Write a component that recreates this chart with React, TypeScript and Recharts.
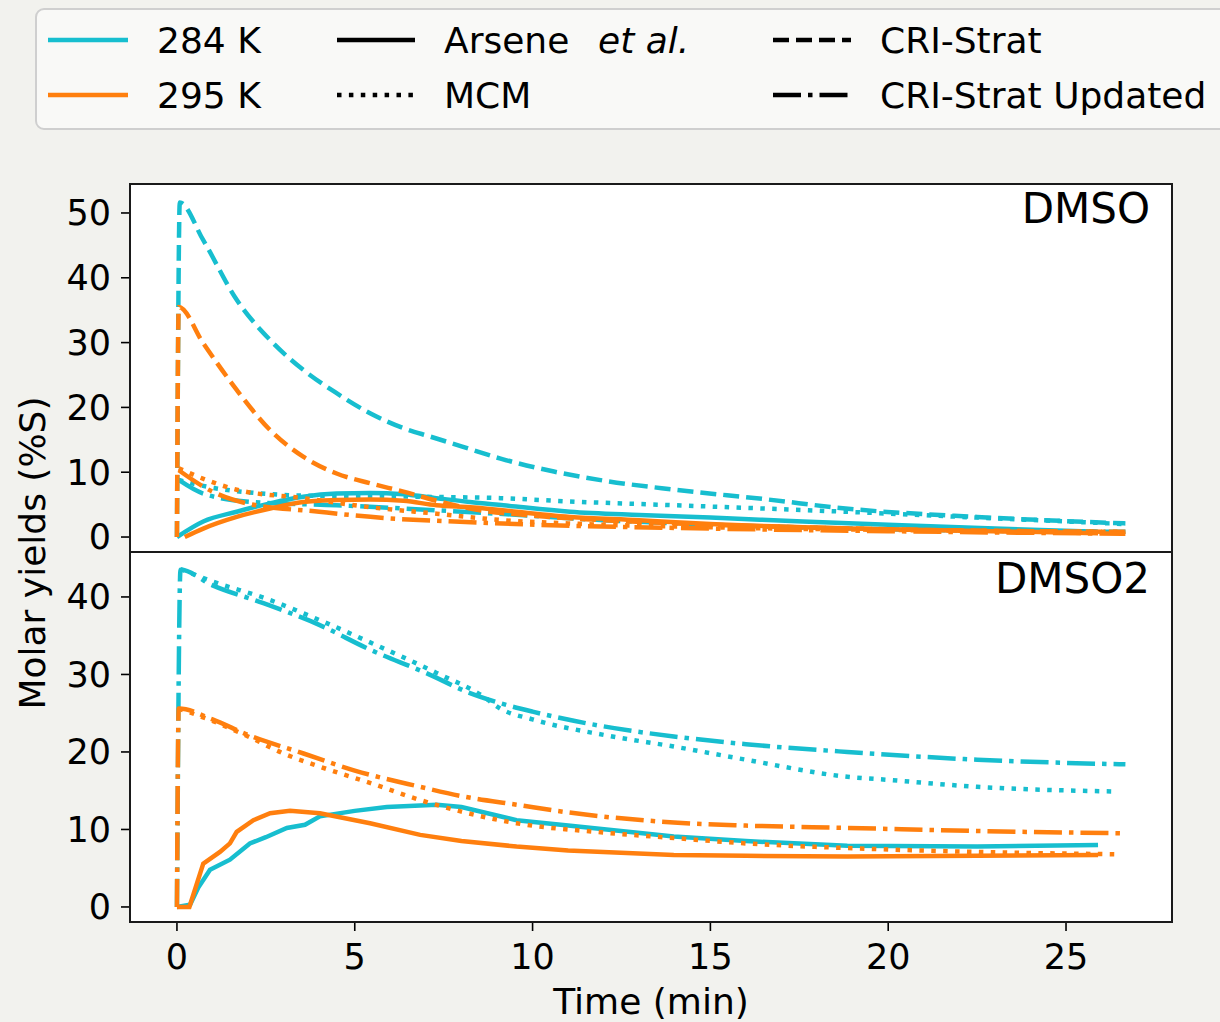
import { LineChart, Line, XAxis, YAxis } from "recharts";

const FONT = '"DejaVu Sans", "Liberation Sans", sans-serif';
const CYAN = "#17becf";
const ORANGE = "#ff7f0e";
const LINE_W = 4.5;

// dash patterns scaled to the line width, matplotlib style
const DASH: Record<string, string | undefined> = {
  solid: undefined,
  dashed: "16 7",
  dotted: "4.5 7.4",
  dashdot: "28 7 4.5 7",
};

const timeTicks = [0, 5, 10, 15, 20, 25];
const timeDomain = [-1.32, 27.98];
const dmsoTicks = [0, 10, 20, 30, 40, 50];
const dmsoDomain = [-2.31, 54.47];
const dmso2Ticks = [0, 10, 20, 30, 40];
const dmso2Domain = [-1.94, 45.8];

// ---- DMSO, [time (min), yield (%S)] ----
const dmsoArsene284 = [[0, 0], [0.74, 2.4], [1.68, 3.9], [2.62, 5.2], [3.55, 6.2], [4.49, 6.7], [5.43, 6.8], [6.37, 6.6], [7.3, 6.0], [8.24, 5.4], [9.18, 4.9], [11.05, 3.9], [13, 3.4], [15, 3.0], [17.6, 2.4], [20, 1.9], [23, 1.3], [25.9, 0.8]];
const dmsoMcm284 = [[0.05, 8.8], [1, 7.6], [2, 6.9], [3.55, 6.4], [5.5, 6.3], [7, 6.2], [9.1, 6.0], [11, 5.5], [14, 4.9], [16.5, 4.4], [18.8, 3.9], [22.5, 3.0], [26.67, 2.0]];
const dmsoCri284 = [[0, 0], [0.08, 51.6], [0.74, 45.8], [1.68, 36.6], [2.62, 30.4], [3.55, 25.8], [4.49, 22.2], [5.43, 19.1], [6.37, 16.8], [7.12, 15.5], [8, 14.0], [9.1, 12.1], [10.6, 10.1], [12, 8.7], [14, 7.3], [16.6, 5.8], [18.8, 4.4], [22.5, 3.1], [26.67, 2.1]];
const dmsoCriUpd284 = [[0.05, 8.8], [0.74, 6.7], [2.15, 5.4], [4.49, 4.9], [6.37, 4.4], [9, 3.6], [12, 2.6], [15, 1.9], [20, 1.2], [26.67, 0.8]];

const dmsoArsene295 = [[0.22, 0], [0.74, 1.3], [1.68, 3.1], [2.62, 4.4], [3.55, 5.4], [4.49, 5.7], [5.43, 5.8], [6.37, 5.6], [7.3, 4.9], [8.24, 4.6], [11.05, 3.1], [13, 2.6], [15, 2.0], [20, 1.2], [25.9, 0.6]];
const dmsoMcm295 = [[0.05, 10.6], [0.83, 8.8], [1.68, 7.3], [3.55, 6.0], [5.43, 4.6], [7.3, 3.6], [9.18, 2.6], [11, 2.1], [15, 1.5], [20, 1.1], [26.67, 0.8]];
const dmsoCri295 = [[0, 0], [0.05, 35.5], [0.74, 29.9], [1.68, 22.7], [2.62, 16.5], [3.55, 12.4], [4.49, 9.8], [5.43, 8.3], [6.37, 7.0], [7.3, 5.6], [8.24, 4.4], [10, 3.3], [12, 2.6], [15, 1.9], [20, 1.2], [26.67, 0.8]];
const dmsoCriUpd295 = [[0.05, 10.3], [1, 7.0], [1.96, 5.2], [4, 3.9], [5.9, 2.9], [7.8, 2.4], [10.1, 1.9], [15, 1.3], [20, 0.9], [26.67, 0.5]];

// ---- DMSO2 ----
const dmso2Arsene284 = [[0, 0], [0.37, 0.3], [0.6, 2.5], [0.93, 4.8], [1.49, 6.1], [2.05, 8.2], [2.5, 9.0], [3.09, 10.2], [3.6, 10.6], [4.02, 11.7], [5, 12.4], [5.9, 12.9], [7.31, 13.2], [8, 12.9], [9.55, 11.2], [11, 10.5], [13.97, 9.1], [16, 8.5], [18.85, 7.9], [22.5, 7.8], [25.9, 8.0]];
const dmso2Mcm284 = [[0.1, 43.6], [1, 42.0], [2.5, 39.8], [4.02, 37.0], [5.5, 34.0], [7.3, 30.2], [8.6, 27.2], [9.09, 25.6], [10, 24.2], [12, 22.2], [13.97, 20.7], [16, 19.0], [18.85, 16.8], [20, 16.4], [22.5, 15.5], [26.4, 14.9]];
const dmso2CriUpd284 = [[0, 0], [0.1, 43.5], [1, 41.5], [2.43, 39.2], [4, 36.4], [5.43, 33.2], [7, 30.2], [8.24, 27.6], [9.09, 26.3], [10, 25.2], [12, 23.3], [13.97, 22.0], [16, 21.0], [18.85, 20.0], [22.5, 19.0], [26.67, 18.4]];

const dmso2Arsene295 = [[0, 0], [0.35, 0], [0.74, 5.6], [1.21, 7.1], [1.49, 8.2], [1.68, 9.7], [2.15, 11.2], [2.62, 12.1], [3.18, 12.4], [4.02, 12.1], [5.43, 10.8], [6.84, 9.3], [8, 8.5], [9.55, 7.8], [11, 7.3], [13.97, 6.7], [16, 6.6], [18.85, 6.5], [22.5, 6.6], [25.9, 6.7]];
const dmso2Mcm295 = [[0.05, 25.6], [1, 24.0], [2, 22.0], [3, 19.8], [4.02, 18.1], [5.5, 15.9], [6.84, 13.8], [8, 12.3], [9.55, 10.8], [12, 9.6], [13.97, 8.9], [16, 8.2], [18.85, 7.6], [22.5, 7.1], [26.4, 6.8]];
const dmso2CriUpd295 = [[0, 0], [0.05, 25.6], [1, 24.2], [2, 22.2], [3.56, 19.8], [5, 17.6], [6.84, 15.5], [8, 14.3], [9.55, 13.2], [11, 12.2], [13.97, 10.9], [16, 10.5], [18.85, 10.2], [22.5, 9.8], [26.67, 9.5]];

type Series = { id: string; pts: number[][]; color: string; style: string; curve: "linear" | "monotone" };

const dmsoSeries: Series[] = [
  { id: "a284", pts: dmsoArsene284, color: CYAN, style: "solid", curve: "monotone" },
  { id: "m284", pts: dmsoMcm284, color: CYAN, style: "dotted", curve: "monotone" },
  { id: "c284", pts: dmsoCri284, color: CYAN, style: "dashed", curve: "monotone" },
  { id: "u284", pts: dmsoCriUpd284, color: CYAN, style: "dashdot", curve: "monotone" },
  { id: "a295", pts: dmsoArsene295, color: ORANGE, style: "solid", curve: "monotone" },
  { id: "m295", pts: dmsoMcm295, color: ORANGE, style: "dotted", curve: "monotone" },
  { id: "c295", pts: dmsoCri295, color: ORANGE, style: "dashed", curve: "monotone" },
  { id: "u295", pts: dmsoCriUpd295, color: ORANGE, style: "dashdot", curve: "monotone" },
];

const dmso2Series: Series[] = [
  { id: "a284", pts: dmso2Arsene284, color: CYAN, style: "solid", curve: "linear" },
  { id: "m284", pts: dmso2Mcm284, color: CYAN, style: "dotted", curve: "monotone" },
  { id: "u284", pts: dmso2CriUpd284, color: CYAN, style: "dashdot", curve: "monotone" },
  { id: "a295", pts: dmso2Arsene295, color: ORANGE, style: "solid", curve: "linear" },
  { id: "m295", pts: dmso2Mcm295, color: ORANGE, style: "dotted", curve: "monotone" },
  { id: "u295", pts: dmso2CriUpd295, color: ORANGE, style: "dashdot", curve: "monotone" },
];

const legendTemps = [
  { label: "284 K", color: CYAN },
  { label: "295 K", color: ORANGE },
];
const legendModels = [
  { label: "Arsene", italic: "et al.", style: "solid", col: 1, row: 0 },
  { label: "MCM", style: "dotted", col: 1, row: 1 },
  { label: "CRI-Strat", style: "dashed", col: 2, row: 0 },
  { label: "CRI-Strat Updated", style: "dashdot", col: 2, row: 1 },
];

const toRows = (pts: number[][]) => pts.map(([t, v]) => ({ t, v }));

const tickStyle = { fontSize: 35, fill: "#000", fontFamily: FONT };
const tickLine = { stroke: "#000", strokeWidth: 1.6 };

function Panel({
  series, yDomain, yTicks, height, margin, showX,
}: {
  series: Series[];
  yDomain: number[];
  yTicks: number[];
  height: number;
  margin: { top: number; right: number; bottom: number; left: number };
  showX: boolean;
}) {
  return (
    <LineChart width={1220} height={height} margin={margin}>
      <XAxis
        type="number"
        dataKey="t"
        domain={timeDomain}
        ticks={timeTicks}
        allowDataOverflow
        hide={!showX}
        height={100}
        interval={0}
        axisLine={false}
        tickLine={tickLine}
        tickSize={9}
        tickMargin={13}
        tick={tickStyle}
      />
      <YAxis
        type="number"
        domain={yDomain}
        ticks={yTicks}
        allowDataOverflow
        width={130}
        interval={0}
        axisLine={false}
        tickLine={tickLine}
        tickSize={9}
        tickMargin={10}
        tick={tickStyle}
      />
      {series.map((s) => (
        <Line
          key={s.id}
          data={toRows(s.pts)}
          dataKey="v"
          type={s.curve}
          stroke={s.color}
          strokeWidth={LINE_W}
          strokeDasharray={DASH[s.style]}
          dot={false}
          activeDot={false}
          isAnimationActive={false}
        />
      ))}
    </LineChart>
  );
}

function Legend() {
  const colX = [48, 337, 773];
  const rowY = [40, 95];
  return (
    <g fontFamily={FONT} fontSize={36} fill="#000">
      <rect x={36} y={9} width={1220} height={120} rx={8} fill="#f9f9f7" stroke="#cfcfcf" strokeWidth={2} />
      {legendTemps.map((e, i) => (
        <g key={e.label}>
          <line x1={colX[0]} x2={colX[0] + 80} y1={rowY[i]} y2={rowY[i]} stroke={e.color} strokeWidth={LINE_W} />
          <text x={157} y={rowY[i] + 13}>{e.label}</text>
        </g>
      ))}
      {legendModels.map((e) => (
        <g key={e.label}>
          <line
            x1={colX[e.col]}
            x2={colX[e.col] + 78}
            y1={rowY[e.row]}
            y2={rowY[e.row]}
            stroke="#000"
            strokeWidth={LINE_W}
            strokeDasharray={DASH[e.style]}
          />
          <text x={colX[e.col] + 107} y={rowY[e.row] + 13}>
            {e.label}
            {e.italic && (
              <tspan x={598} fontStyle="italic">{e.italic}</tspan>
            )}
          </text>
        </g>
      ))}
    </g>
  );
}

export default function App() {
  const box = { left: 130, top: 184, right: 1172, mid: 552, bottom: 922 };
  return (
    <div style={{ position: "absolute", left: 0, top: 0, width: 1220, height: 1022, background: "#f2f2ee", overflow: "hidden" }}>
      <svg width={1220} height={1022} style={{ position: "absolute", left: 0, top: 0 }}>
        <rect x={box.left} y={box.top} width={box.right - box.left} height={box.bottom - box.top} fill="#fff" />
      </svg>
      <div style={{ position: "absolute", left: 0, top: 0 }}>
        <Panel
          series={dmsoSeries}
          yDomain={dmsoDomain}
          yTicks={dmsoTicks}
          height={560}
          margin={{ top: 184, right: 48, bottom: 8, left: 0 }}
          showX={false}
        />
      </div>
      <div style={{ position: "absolute", left: 0, top: 540 }}>
        <Panel
          series={dmso2Series}
          yDomain={dmso2Domain}
          yTicks={dmso2Ticks}
          height={482}
          margin={{ top: 12, right: 48, bottom: 0, left: 0 }}
          showX
        />
      </div>
      <svg width={1220} height={1022} style={{ position: "absolute", left: 0, top: 0, pointerEvents: "none" }}>
        <rect x={box.left} y={box.top} width={box.right - box.left} height={box.bottom - box.top} fill="none" stroke="#1a1a1a" strokeWidth={2} />
        <line x1={box.left} x2={box.right} y1={box.mid} y2={box.mid} stroke="#1a1a1a" strokeWidth={2} />
        <g fontFamily={FONT} fill="#000">
          <text x={1150} y={223} fontSize={42} textAnchor="end">DMSO</text>
          <text x={1150} y={593} fontSize={42} textAnchor="end">DMSO2</text>
          <text x={651} y={1014} fontSize={36} textAnchor="middle">Time (min)</text>
          <text x={45} y={553} fontSize={36} textAnchor="middle" transform="rotate(-90 45 553)">Molar yields (%S)</text>
        </g>
        <Legend />
      </svg>
    </div>
  );
}
